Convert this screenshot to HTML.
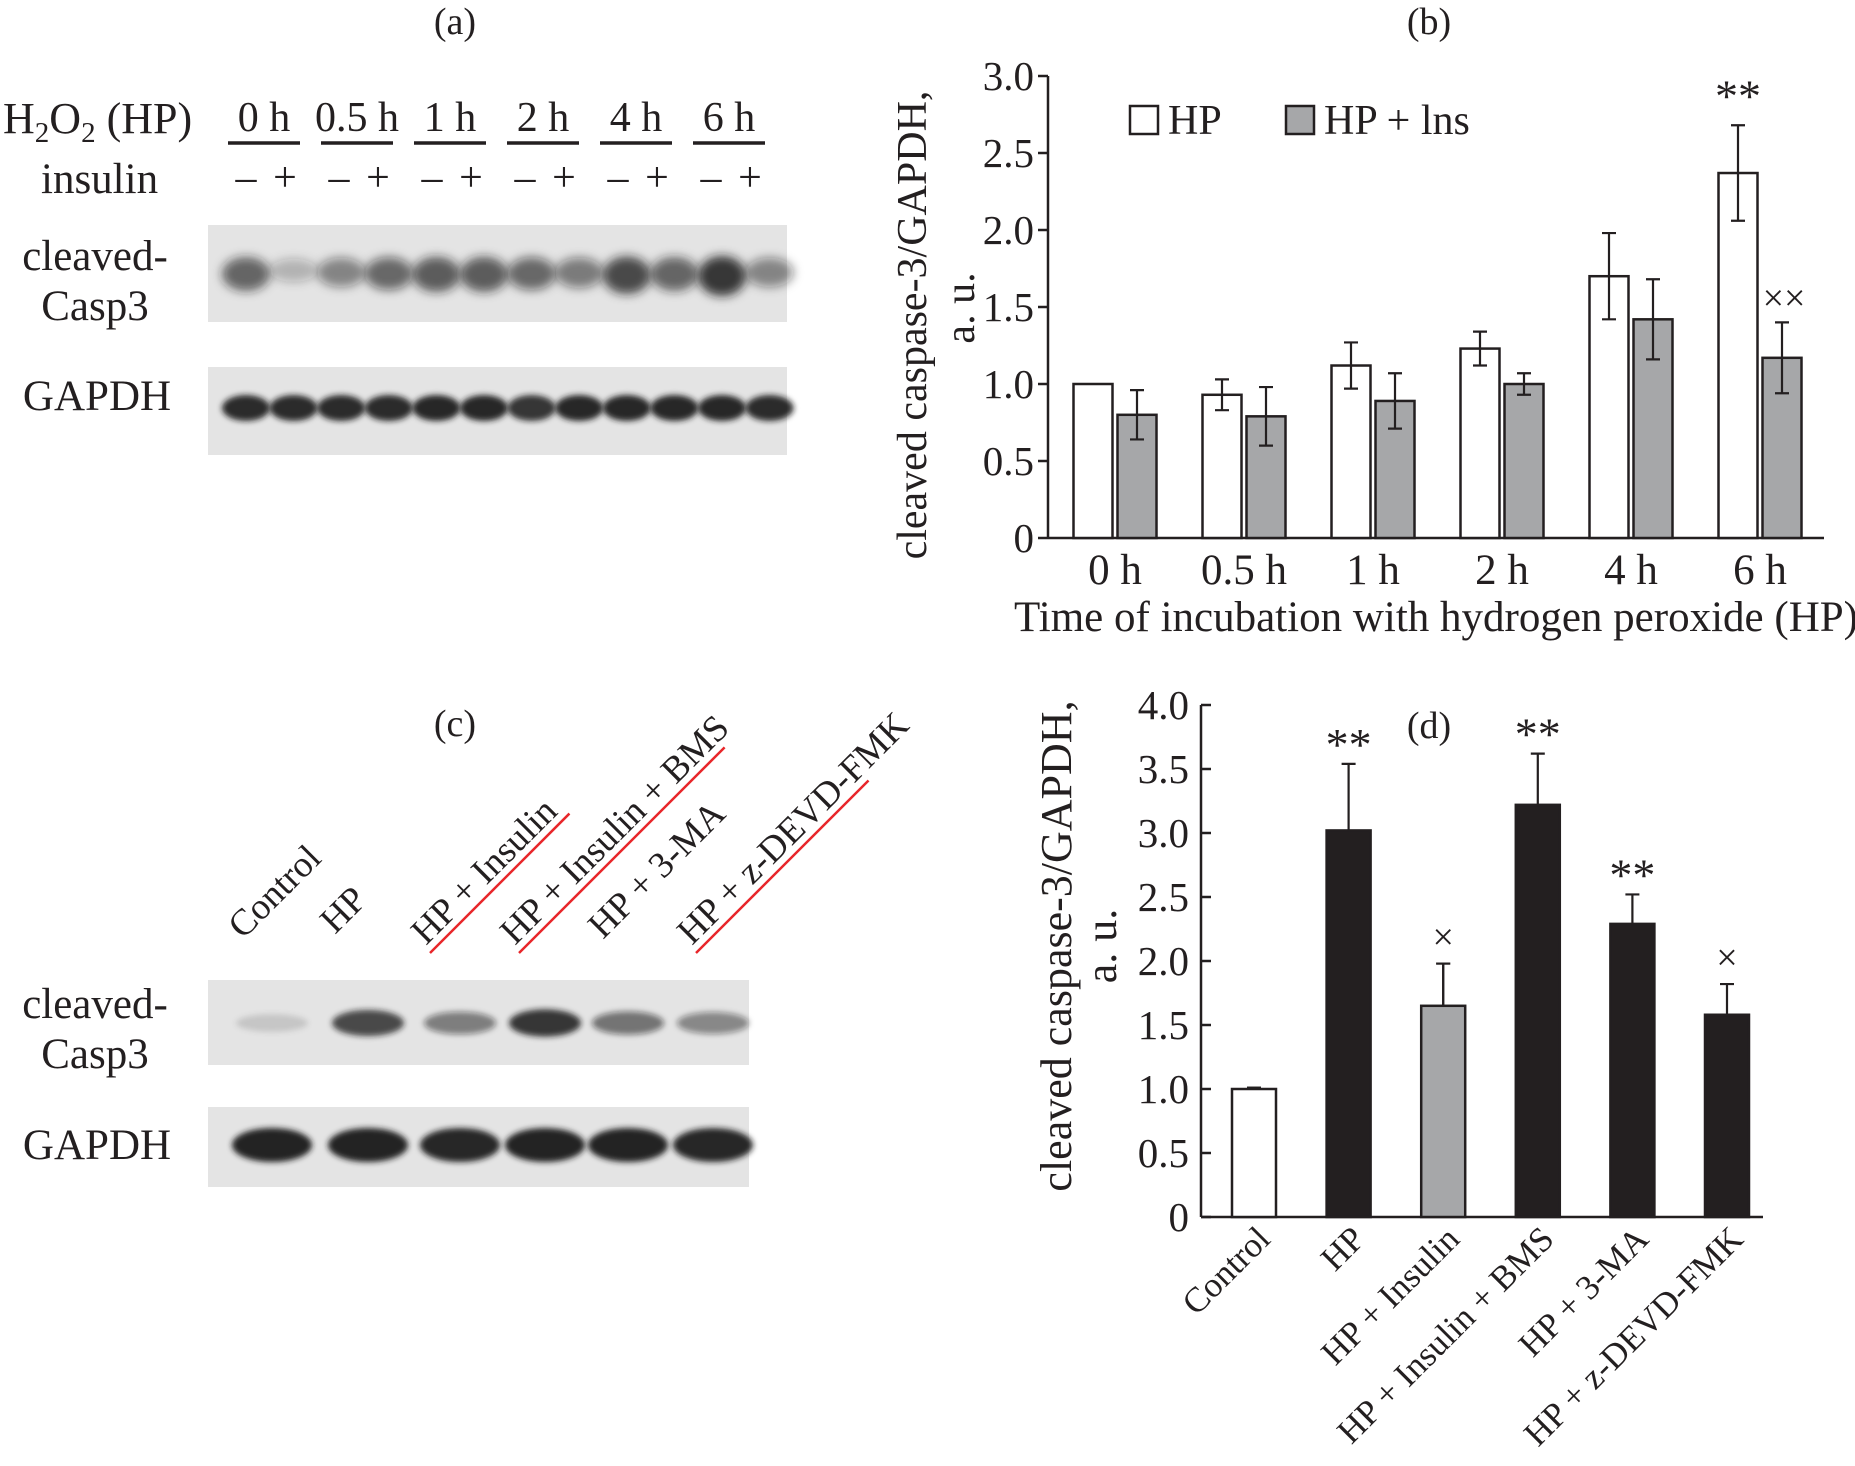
<!DOCTYPE html>
<html><head><meta charset="utf-8"><style>
body{margin:0;background:#fff}
svg{display:block;font-family:"Liberation Serif",serif;fill:#231f20}
</style></head><body>
<svg id="fig" width="1855" height="1466" viewBox="0 0 1855 1466">
<defs>
<filter id="bl" x="-50%" y="-100%" width="200%" height="300%"><feGaussianBlur stdDeviation="5"/></filter>
<filter id="bl2" x="-50%" y="-100%" width="200%" height="300%"><feGaussianBlur stdDeviation="3"/></filter>
</defs>
<!-- Panel a -->
<text x="455" y="34" font-size="38" text-anchor="middle">(a)</text>
<text x="3" y="133" font-size="44">H<tspan font-size="29" dy="9">2</tspan><tspan dy="-9">O</tspan><tspan font-size="29" dy="9">2</tspan><tspan dy="-9"> (HP)</tspan></text>
<text x="41" y="193" font-size="43">insulin</text>
<g id="timeRow"></g>
<rect x="208" y="225" width="579" height="97" fill="#e4e4e4"/>
<rect x="208" y="367" width="579" height="88" fill="#e4e4e4"/>
<g id="bandsA"></g>
<text x="95" y="270" font-size="43" text-anchor="middle">cleaved-</text>
<text x="95" y="320" font-size="43" text-anchor="middle">Casp3</text>
<text x="97" y="410" font-size="43" text-anchor="middle">GAPDH</text>
<!-- Panel c -->
<text x="455" y="736" font-size="38" text-anchor="middle">(c)</text>
<g id="labelsC"></g>
<rect x="208" y="980" width="541" height="85" fill="#e4e4e4"/>
<rect x="208" y="1107" width="541" height="80" fill="#e4e4e4"/>
<g id="bandsC"></g>
<text x="95" y="1018" font-size="43" text-anchor="middle">cleaved-</text>
<text x="95" y="1068" font-size="43" text-anchor="middle">Casp3</text>
<text x="97" y="1159" font-size="43" text-anchor="middle">GAPDH</text>
<!-- Panel b -->
<text x="1429" y="34" font-size="38" text-anchor="middle">(b)</text>
<g id="chartB"></g>
<!-- Panel d -->
<g id="chartD"></g>
</svg>
<script>
// ---- data ----
const timeCats = ["0 h","0.5 h","1 h","2 h","4 h","6 h"];
const hpVals = [1.0,0.93,1.12,1.23,1.70,2.37];
const hpErr = [0,0.10,0.15,0.11,0.28,0.31];
const insVals = [0.80,0.79,0.89,1.00,1.42,1.17];
const insErr = [0.16,0.19,0.18,0.07,0.26,0.23];
const bTicks = [0,0.5,1.0,1.5,2.0,2.5,3.0];
const bTickLabels = ["0","0.5","1.0","1.5","2.0","2.5","3.0"];
const treatCats = ["Control","HP","HP + Insulin","HP + Insulin + BMS","HP + 3-MA","HP + z-DEVD-FMK"];
const treatVals = [1.0,3.02,1.65,3.22,2.29,1.58];
const treatErr = [0.01,0.52,0.33,0.40,0.23,0.24];
const treatFill = ["white","black","gray","black","black","black"];
const treatMark = ["","**","×","**","**","×"];
const dTicks = [0,0.5,1.0,1.5,2.0,2.5,3.0,3.5,4.0];
const dTickLabels = ["0","0.5","1.0","1.5","2.0","2.5","3.0","3.5","4.0"];
const casp3A = [0.75,0.3,0.55,0.7,0.8,0.8,0.7,0.6,0.9,0.75,1.0,0.55];
const gapdhA = [0.95,0.95,0.95,0.95,1,1,0.9,1,1,1,1,0.95];
const casp3C = [0.15,0.85,0.55,0.95,0.6,0.5];
const gapdhC = [1,1,0.95,1,1,0.95];
const underlinedC = [false,false,true,true,false,true];

const NS="http://www.w3.org/2000/svg";
function mk(parent,tag,attrs,text){const e=document.createElementNS(NS,tag);for(const k in attrs)e.setAttribute(k,attrs[k]);if(text!==undefined)e.textContent=text;parent.appendChild(e);return e;}
const COL={white:"#ffffff",gray:"#a6a7a9",black:"#231f20"};

// ---- panel a header ----
const tr=document.getElementById('timeRow');
timeCats.forEach((t,i)=>{
  const cx=264+i*93;
  let e=mk(tr,'text',{x:cx,y:131,'font-size':42,'text-anchor':'middle'},t);
  
  
  e=mk(tr,'line',{x1:cx-36,x2:cx+36,y1:143,y2:143,stroke:'#231f20','stroke-width':3.5});
  
  
  e=mk(tr,'text',{x:cx-18,y:191,'font-size':42,'text-anchor':'middle'},'–');
  
  
  e=mk(tr,'text',{x:cx+21,y:191,'font-size':42,'text-anchor':'middle'},'+');
  
  
});
// ---- bands ----
const ba=document.getElementById('bandsA');
casp3A.forEach((v,i)=>{
  const cx=246+i*47.6;
  const e=mk(ba,'ellipse',{cx:cx,cy:268+v*8,rx:24,ry:8+v*12,fill:'#1a1a1a','fill-opacity':v*0.85,filter:'url(#bl)'});
  
  
});
gapdhA.forEach((v,i)=>{
  const cx=246+i*47.6;
  const e=mk(ba,'ellipse',{cx:cx,cy:408,rx:24,ry:13,fill:'#1a1a1a','fill-opacity':v*0.95,filter:'url(#bl2)'});
  
  
});
const bc=document.getElementById('bandsC');
const cLane=[272,368,460,545,628,713];
casp3C.forEach((v,i)=>{
  const e=mk(bc,'ellipse',{cx:cLane[i],cy:1023,rx:36,ry:8+v*6,fill:'#1a1a1a','fill-opacity':v*0.9,filter:'url(#bl2)'});
  
  
});
gapdhC.forEach((v,i)=>{
  const e=mk(bc,'ellipse',{cx:cLane[i],cy:1145,rx:40,ry:17,fill:'#1a1a1a','fill-opacity':v*0.97,filter:'url(#bl2)'});
  
  
});
// ---- panel c lane labels ----
const lc=document.getElementById('labelsC');
const cStart=[[243,940],[335,935],[426,946],[515,946],[603,940],[692,946]];
treatCats.forEach((t,i)=>{
  const [x,y]=cStart[i];
  const e=mk(lc,'text',{x:x,y:y,'font-size':37,transform:`rotate(-45 ${x} ${y})`},t);
  
  
  if(underlinedC[i]){
    const len=t.length*15.6+10;
    const l=mk(lc,'line',{x1:x+4,y1:y+7,x2:x+4+len*0.7071,y2:y+7-len*0.7071,stroke:'#e8262a','stroke-width':2.5});
    
    
  }
});

// ---- chart b ----
(function(){
  const g=document.getElementById('chartB');
  const x0=1048,y0=538,unit=154,xEnd=1824;
  const ys=v=>y0-v*unit;
  const cx=i=>1115+i*129;
  let e=mk(g,'line',{x1:x0,y1:y0,x2:x0,y2:ys(3.0),stroke:'#231f20','stroke-width':2.5});
  
  
  e=mk(g,'line',{x1:x0,y1:y0,x2:xEnd,y2:y0,stroke:'#231f20','stroke-width':2.5});
  
  
  bTicks.forEach((t,i)=>{
    let e=mk(g,'line',{x1:x0-10,x2:x0,y1:ys(t),y2:ys(t),stroke:'#231f20','stroke-width':2.5});
    
    
    e=mk(g,'text',{x:x0-14,y:ys(t)+14,'font-size':41,'text-anchor':'end'},bTickLabels[i]);
    
    
  });
  function bar(xc,v,er,fill,name){
    let e=mk(g,'rect',{x:xc-19.5,y:ys(v),width:39,height:v*unit,fill:fill,stroke:'#231f20','stroke-width':2.5});
    
    
    if(er>0){
      e=mk(g,'path',{d:`M${xc},${ys(v+er)}V${ys(v-er)}M${xc-7},${ys(v+er)}H${xc+7}M${xc-7},${ys(v-er)}H${xc+7}`,stroke:'#231f20','stroke-width':2.2,fill:'none'});
      
      
    }
  }
  timeCats.forEach((c,i)=>{
    bar(cx(i)-22,hpVals[i],hpErr[i],COL.white,'bar-hp');
    bar(cx(i)+22,insVals[i],insErr[i],COL.gray,'bar-hp-ins');
    const e=mk(g,'text',{x:cx(i),y:584,'font-size':43,'text-anchor':'middle'},c);
    
    
  });
  const last=timeCats.length-1;
  e=mk(g,'text',{x:cx(last)-22,y:ys(hpVals[last]+hpErr[last])-14,'font-size':46,'text-anchor':'middle'},'**');
  
  
  e=mk(g,'text',{x:cx(last)+24,y:ys(insVals[last]+insErr[last])-12,'font-size':38,'text-anchor':'middle'},'××');
  
  
  e=mk(g,'text',{x:1436,y:631,'font-size':43,'text-anchor':'middle'},'Time of incubation with hydrogen peroxide (HP)');
  
  
  e=mk(g,'text',{x:0,y:0,'font-size':42,'text-anchor':'middle',transform:'translate(926,325) rotate(-90)'},'cleaved caspase-3/GAPDH,');
  
  
  e=mk(g,'text',{x:0,y:0,'font-size':42,'text-anchor':'middle',transform:'translate(974,308) rotate(-90)'},'a. u.');
  
  
  e=mk(g,'rect',{x:1130,y:106,width:28,height:28,fill:'#fff',stroke:'#231f20','stroke-width':2.5});
  
  
  e=mk(g,'text',{x:1168,y:134,'font-size':42},'HP');
  
  
  e=mk(g,'rect',{x:1286,y:106,width:28,height:28,fill:COL.gray,stroke:'#231f20','stroke-width':2.5});
  
  
  e=mk(g,'text',{x:1324,y:134,'font-size':42},'HP + lns');
  
  
})();

// ---- chart d ----
(function(){
  const g=document.getElementById('chartD');
  const x0=1201,y0=1217,unit=128,xEnd=1763;
  const ys=v=>y0-v*unit;
  const cx=i=>1254+i*94.6;
  let e=mk(g,'line',{x1:x0,y1:y0,x2:x0,y2:ys(4.0),stroke:'#231f20','stroke-width':2.5});
  
  
  e=mk(g,'line',{x1:x0,y1:y0,x2:xEnd,y2:y0,stroke:'#231f20','stroke-width':2.5});
  
  
  dTicks.forEach((t,i)=>{
    let e=mk(g,'line',{x1:x0+10,x2:x0,y1:ys(t),y2:ys(t),stroke:'#231f20','stroke-width':2.5});
    
    
    e=mk(g,'text',{x:x0-12,y:ys(t)+14,'font-size':41,'text-anchor':'end'},dTickLabels[i]);
    
    
  });
  treatCats.forEach((c,i)=>{
    const xc=cx(i),v=treatVals[i],er=treatErr[i];
    let e=mk(g,'path',{d:`M${xc},${ys(v+er)}V${ys(Math.max(0,v-er))}M${xc-7},${ys(v+er)}H${xc+7}M${xc-7},${ys(Math.max(0,v-er))}H${xc+7}`,stroke:'#231f20','stroke-width':2.2,fill:'none'});
    
    
    e=mk(g,'rect',{x:xc-22,y:ys(v),width:44,height:v*unit,fill:COL[treatFill[i]],stroke:'#231f20','stroke-width':2.5});
    
    
    if(treatFill[i]!=='black'){
      e=mk(g,'path',{d:`M${xc},${ys(v+er)}V${ys(v)}M${xc-7},${ys(v+er)}H${xc+7}`,stroke:'#231f20','stroke-width':2.2,fill:'none'});
      
      
    }
    if(treatMark[i]){
      const big=treatMark[i]==='**';
      e=mk(g,'text',{x:xc,y:ys(v+er)-(big?4:14),'font-size':big?46:38,'text-anchor':'middle'},treatMark[i]);
      
      
    }
    const tx=xc+18,ty=y0+24;
    e=mk(g,'text',{x:tx,y:ty,'font-size':35,'text-anchor':'end',transform:`rotate(-45 ${tx} ${ty})`},c);
    
    
  });
  e=mk(g,'text',{x:1429,y:738,'font-size':38,'text-anchor':'middle'},'(d)');
  
  
  e=mk(g,'text',{x:0,y:0,'font-size':44,'text-anchor':'middle',transform:'translate(1071,946) rotate(-90)'},'cleaved caspase-3/GAPDH,');
  
  
  e=mk(g,'text',{x:0,y:0,'font-size':44,'text-anchor':'middle',transform:'translate(1116,946) rotate(-90)'},'a. u.');
  
  
})();
</script>
</body></html>
